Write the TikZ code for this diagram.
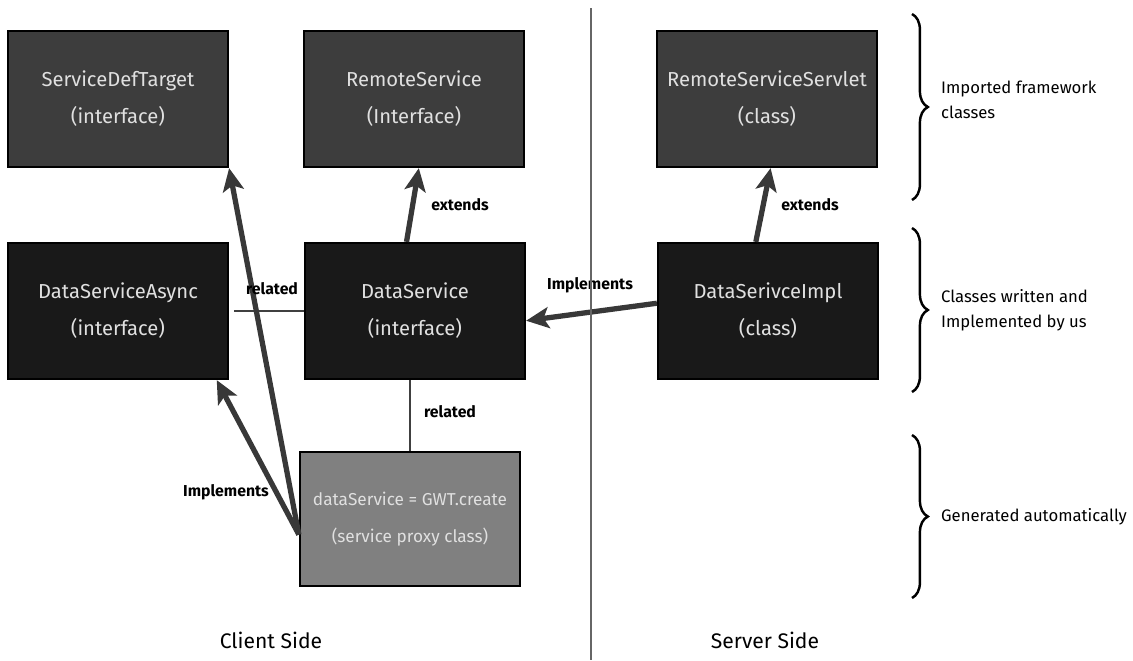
\documentclass[tikz,border=0pt]{standalone}
\usepackage{fontspec}
\setmainfont{Fira Sans}
\usetikzlibrary{arrows.meta,decorations.pathreplacing}

\begin{document}
\begin{tikzpicture}[x=0.02cm,y=-0.02cm,
  box/.style = {draw=black, line width=1.3pt, minimum width=4.4cm, minimum height=2.72cm, align=center, text=white!88!black, font=\fontsize{11.5}{21}\selectfont},
  upper/.style = {box, fill=black!76},
  lower/.style = {box, fill=black!90},
  gen/.style = {box, fill=black!50, inner xsep=1pt, minimum height=2.68cm, font=\fontsize{9.8}{21}\selectfont},
  arr/.style = {draw=black!78, line width=3pt, -{Stealth[length=13pt,width=12pt,inset=3pt]}},
  rel/.style = {draw=black!75, line width=0.8pt},
  lbl/.style = {font=\fontsize{9}{11}\selectfont\bfseries},
  note/.style = {anchor=west, align=left, font=\fontsize{9.5}{14}\selectfont},
  side/.style = {font=\fontsize{12}{14}\selectfont},
  brace/.style = {decorate, decoration={brace, amplitude=9pt}, line width=1.4pt}]
\useasboundingbox (0,0) rectangle (1133,660);

\node[upper] (target) at (118,99) {ServiceDefTarget\\(interface)};
\node[upper] (remote) at (414,99) {RemoteService\\(Interface)};
\node[upper] (servlet) at (767,99) {RemoteServiceServlet\\(class)};
\node[lower] (async) at (118,311) {DataServiceAsync\\(interface)};
\node[lower] (data) at (415,311) {DataService\\(interface)};
\node[lower] (impl) at (768,311) {DataSerivceImpl\\(class)};
\node[gen] (proxy) at (410,519) {dataService = GWT.create\\(service proxy class)};
\coordinate (pk) at (proxy.188);

\draw[rel, shorten <=3pt] (async) -- (data);
\draw[rel] (proxy.north) -- (proxy.north |- data.south);
\draw[arr] (data.97) -- (remote.-86);
\draw[arr] (impl.100) -- (servlet.-87);
\draw[arr] (impl.176) -- (data.-5);
\draw[arr] (pk) -- (target.south east);
\draw[arr] (pk) -- (async.-35);

\node[lbl] at (272,289) {related};
\node[lbl] at (450,412) {related};
\node[lbl] at (460,205) {extends};
\node[lbl] at (810,205) {extends};
\node[lbl] at (590,285) {Implements};
\node[lbl] at (226,492) {Implements};

\draw[line width=0.8pt, black!60] (591,8) -- (591,660);

\draw[brace] (912,14) -- (912,200);
\draw[brace] (912,228) -- (912,392);
\draw[brace] (912,435) -- (912,598);
\node[note] at (935,100) {Imported framework\\classes};
\node[note] at (935,310) {Classes written and\\Implemented by us};
\node[note] at (935,517) {Generated automatically};

\node[side] at (271,640) {Client Side};
\node[side] at (765,640) {Server Side};
\end{tikzpicture}
\end{document}
